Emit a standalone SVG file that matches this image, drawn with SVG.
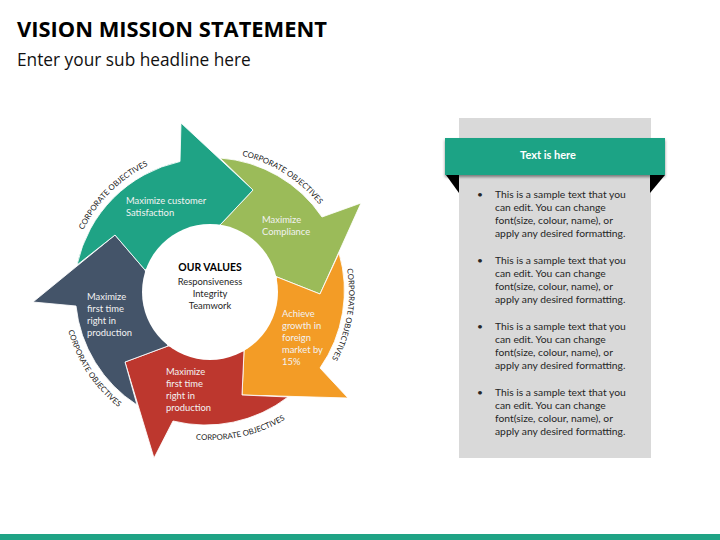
<svg xmlns="http://www.w3.org/2000/svg" width="720" height="540" viewBox="0 0 720 540">
<style>
text{font-family:"Lato","Carlito","Open Sans",sans-serif}
.head{font-family:"Open Sans",sans-serif}
.w{fill:#f2f2f2;font-size:9.4px}
.b{fill:#262626;font-size:9.4px}
.c{fill:#1a1a1a;font-size:7.8px}
.s{stroke:#fff;stroke-width:1;stroke-opacity:.85}
.p{fill:#262626;font-size:10.3px}
</style>
<defs>
<filter id="sh" x="-5%" y="-20%" width="110%" height="150%"><feDropShadow dx="0" dy="2" stdDeviation="1.5" flood-color="#000" flood-opacity=".45"/></filter>
<path id="a1" d="M73.8 255.5A141 141 0 0 1 173.5 155.8"/>
<path id="a2" d="M215.6 152.1A140 140 0 0 1 333.9 226.9"/>
<path id="a3" d="M340.3 243.5A139 139 0 0 1 317 380.6"/>
<path id="a4b" d="M165.5 433.2A148 148 0 0 0 310 401.1"/>
<path id="a5" d="M63.3 300.7A147 147 0 0 0 144.2 423.4"/>
</defs>
<text id="title" class="head" x="17" y="37" font-size="21.9" font-weight="700" fill="#000">VISION MISSION STATEMENT</text>
<text id="subtitle" class="head" x="17" y="66" font-size="17.3" fill="#111">Enter your sub headline here</text>
<g id="connectors"></g>
<g id="node-olive"><path class="s" fill="#9bbb59" d="M220 158A135 135 0 0 1 322 217L361 203L320 294L277 277L220 225L253 190Z"/></g>
<g id="node-orange"><path class="s" fill="#f39c26" d="M339 253A135 135 0 0 1 320 368L348 398L242 395L244 351L277 277L320 294Z"/></g>
<g id="node-red"><path class="s" fill="#bd372e" d="M125 362L168 346L244 351L242 395L288 397A135 135 0 0 1 173 421L154 458Z"/></g>
<g id="node-navy"><path class="s" fill="#445469" d="M33 302L115 235L145 270L168 346L125 362L137 405A135 135 0 0 1 76 306Z"/></g>
<g id="node-teal"><path class="s" fill="#1fa385" d="M181 123L253 190L220 225L145 270L115 235L77 265A135 135 0 0 1 180 161.5Z"/></g>
<g id="node-center"><circle cx="210" cy="292" r="68" fill="#fff"/>
<text x="210" y="271" text-anchor="middle" font-size="10.4" font-weight="700" fill="#000">OUR VALUES</text>
<text class="b" x="210" y="285" text-anchor="middle">Responsiveness</text>
<text class="b" x="210" y="297" text-anchor="middle">Integrity</text>
<text class="b" x="210" y="309" text-anchor="middle">Teamwork</text></g>
<g id="labels-teal"><text class="w" x="126" y="204">Maximize customer</text><text class="w" x="126" y="216">Satisfaction</text></g>
<g id="labels-olive"><text class="w" x="262" y="223">Maximize</text><text class="w" x="262" y="235">Compliance</text></g>
<g id="labels-orange"><text class="w" x="282" y="317">Achieve</text><text class="w" x="282" y="329">growth in</text><text class="w" x="282" y="341">foreign</text><text class="w" x="282" y="353">market by</text><text class="w" x="282" y="365">15%</text></g>
<g id="labels-navy"><text class="w" x="87" y="300">Maximize</text><text class="w" x="87" y="312">first time</text><text class="w" x="87" y="324">right in</text><text class="w" x="87" y="336">production</text></g>
<g id="labels-red"><text class="w" x="166" y="375">Maximize</text><text class="w" x="166" y="387">first time</text><text class="w" x="166" y="399">right in</text><text class="w" x="166" y="411">production</text></g>
<g id="arc-labels">
<text class="c" text-anchor="middle"><textPath href="#a1" startOffset="50%">CORPORATE OBJECTIVES</textPath></text>
<text class="c" text-anchor="middle"><textPath href="#a2" startOffset="50%">CORPORATE OBJECTIVES</textPath></text>
<text class="c" text-anchor="middle"><textPath href="#a3" startOffset="50%">CORPORATE OBJECTIVES</textPath></text>
<text class="c" text-anchor="middle"><textPath href="#a4b" startOffset="50%">CORPORATE OBJECTIVES</textPath></text>
<text class="c" text-anchor="middle"><textPath href="#a5" startOffset="50%">CORPORATE OBJECTIVES</textPath></text>
</g>
<g id="panel">
<rect x="459" y="118" width="192" height="340" fill="#d9d9d9"/>
<path d="M446 175H459V193Z" fill="#000"/><path d="M650 175H665L650 193Z" fill="#000"/>
<rect x="445" y="138" width="220" height="37" fill="#1fa385" filter="url(#sh)"/>
<text x="548" y="159" text-anchor="middle" font-size="11" font-weight="700" fill="#fff">Text is here</text>
<text class="p" x="477" y="198">•</text><text class="p" x="495" y="198">This is a sample text that you</text><text class="p" x="495" y="211">can edit. You can change</text><text class="p" x="495" y="224">font(size, colour, name), or</text><text class="p" x="495" y="237">apply any desired formatting.</text>
<text class="p" x="477" y="264">•</text><text class="p" x="495" y="264">This is a sample text that you</text><text class="p" x="495" y="277">can edit. You can change</text><text class="p" x="495" y="290">font(size, colour, name), or</text><text class="p" x="495" y="303">apply any desired formatting.</text>
<text class="p" x="477" y="330">•</text><text class="p" x="495" y="330">This is a sample text that you</text><text class="p" x="495" y="343">can edit. You can change</text><text class="p" x="495" y="356">font(size, colour, name), or</text><text class="p" x="495" y="369">apply any desired formatting.</text>
<text class="p" x="477" y="396">•</text><text class="p" x="495" y="396">This is a sample text that you</text><text class="p" x="495" y="409">can edit. You can change</text><text class="p" x="495" y="422">font(size, colour, name), or</text><text class="p" x="495" y="435">apply any desired formatting.</text>
</g>
<rect id="footer" x="0" y="534" width="720" height="6" fill="#1fa385"/>
</svg>
